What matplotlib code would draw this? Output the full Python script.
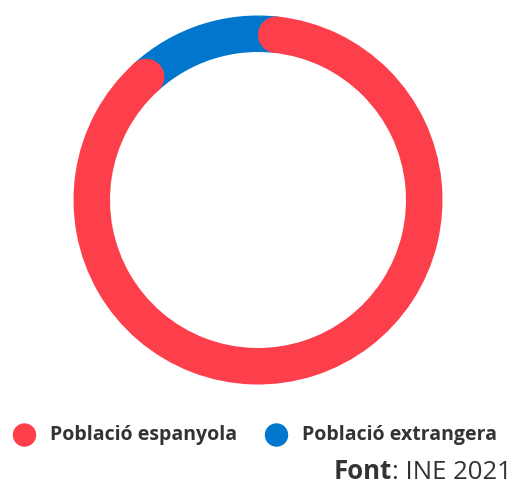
import math
import matplotlib
matplotlib.use("Agg")
import matplotlib.pyplot as plt
from matplotlib.patches import Wedge, Circle

# dades
categories = ["Població espanyola", "Població extrangera"]
values = [90.0, 10.0]
colors = ["#FC3F4A", "#0077CC"]
source_bold = "Font"
source_text = ": INE 2021"

plt.rcParams['font.family'] = ['Open Sans', 'DejaVu Sans']

fig = plt.figure(figsize=(5.15, 4.86), dpi=100)
ax = fig.add_axes([0, 0, 1, 1])
ax.set_xlim(0, 515)
ax.set_ylim(486, 0)
ax.set_aspect('equal')
ax.axis('off')

cx, cy = 258, 200
r_out, ring = 184.5, 36.5
r_mid = r_out - ring / 2
cap = ring / 2

# angle del cap arrodonit, en graus (sentit horari des de dalt)
cap_deg = math.degrees(cap / r_mid)
total = sum(values)
red_span = 360 * values[0] / total
a0 = cap_deg
a1 = red_span - cap_deg

def pos(a):
    t = math.radians(90 - a)
    return cx + r_mid * math.cos(t), cy - r_mid * math.sin(t)

# blau per sota (eix y invertit)
ax.add_patch(Wedge((cx, cy), r_out, a1 - 90, a0 + 360 - 90, width=ring,
                   facecolor=colors[1], edgecolor='none'))
# vermell amb puntes rodones
ax.add_patch(Wedge((cx, cy), r_out, a0 - 90, a1 - 90, width=ring,
                   facecolor=colors[0], edgecolor='none'))
for a in (a0, a1):
    ax.add_patch(Circle(pos(a), cap, facecolor=colors[0], edgecolor='none'))

# llegenda
leg_x = [24.5, 276.5]
for x, lab, c in zip(leg_x, categories, colors):
    ax.add_patch(Circle((x, 435), 11.7, facecolor=c, edgecolor='none'))
    ax.text(x + 25, 435, lab, fontsize=14, fontweight='bold', color='#333333',
            va='center', ha='left')

t = ax.text(512, 479, source_text, fontsize=18.5, color='#333333', ha='right', va='baseline')
fig.canvas.draw()
bb = t.get_window_extent()
x0 = ax.transData.inverted().transform((bb.x0, bb.y0))[0]
ax.text(x0, 479, source_bold, fontsize=18.5, fontweight='bold', color='#333333',
        ha='right', va='baseline')

fig.savefig("out.png", dpi=100)
